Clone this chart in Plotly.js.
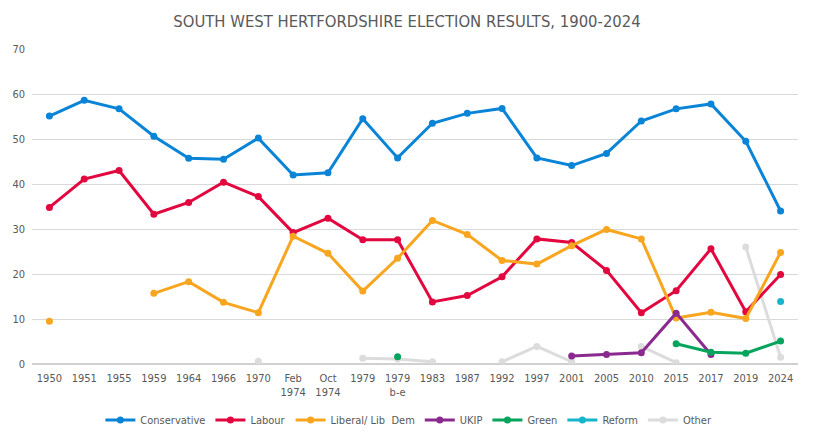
<!DOCTYPE html>
<html>
<head>
<meta charset="utf-8">
<script src="https://cdn.plot.ly/plotly-3.0.1.min.js"></script>
<style>
  body { margin: 0; background: #fff; }
  #chart { width: 814px; height: 440px; outline: 1px solid #d9d9d9; outline-offset: -1px; }
</style>
</head>
<body>
<div id="chart"></div>
<script>
// election years (categories) and their axis labels
const years = ['1950', '1951', '1955', '1959', '1964', '1966', '1970', 'Feb 1974', 'Oct 1974',
    '1979', '1979 b-e', '1983', '1987', '1992', '1997', '2001', '2005', '2010', '2015', '2017', '2019', '2024'];
const yearLabels = ['1950', '1951', '1955', '1959', '1964', '1966', '1970', 'Feb<br>1974', 'Oct<br>1974',
    '1979', '1979<br>b-e', '1983', '1987', '1992', '1997', '2001', '2005', '2010', '2015', '2017', '2019', '2024'];

// vote share, %
const conservative = [55.1, 58.6, 56.7, 50.6, 45.7, 45.5, 50.2, 42.0, 42.5, 54.5, 45.8,
    53.5, 55.7, 56.8, 45.8, 44.1, 46.8, 54.0, 56.7, 57.8, 49.5, 34.0];
const labour = [34.8, 41.1, 43.0, 33.3, 35.9, 40.4, 37.2, 29.2, 32.4, 27.6, 27.6,
    13.8, 15.2, 19.4, 27.8, 27.0, 20.8, 11.4, 16.3, 25.6, 11.6, 19.9];
const libDem = [9.5, null, null, 15.7, 18.3, 13.7, 11.4, 28.4, 24.6, 16.2, 23.5,
    31.9, 28.8, 23.0, 22.2, 26.3, 29.9, 27.8, 10.2, 11.5, 10.1, 24.8];
const ukip = [null, null, null, null, null, null, null, null, null, null, null,
    null, null, null, null, 1.8, 2.1, 2.5, 11.3, 2.1, null, null];
const green = [null, null, null, null, null, null, null, null, null, null, 1.6,
    null, null, null, null, null, null, null, 4.5, 2.6, 2.4, 5.1];
const reform = [null, null, null, null, null, null, null, null, null, null, null,
    null, null, null, null, null, null, null, null, null, null, 13.9];
const other = [null, null, null, null, null, null, 0.6, null, null, 1.3, 1.1,
    0.5, null, 0.5, 3.9, 0.5, null, 3.9, 0.3, null, 26.0, 1.5];

const series = [
    {name: 'Conservative', y: conservative, color: '#0a84d6'},
    {name: 'Labour', y: labour, color: '#e2073e'},
    {name: 'Liberal/ Lib  Dem', y: libDem, color: '#f8a51f'},
    {name: 'UKIP', y: ukip, color: '#8b2a8e'},
    {name: 'Green', y: green, color: '#06a45c'},
    {name: 'Reform', y: reform, color: '#15b5cd'},
    {name: 'Other', y: other, color: '#dcdcdc'}
];

const font = 'DejaVu Sans Condensed, Liberation Sans Narrow, sans-serif';

// Other drawn first so the coloured lines sit on top of it
const order = [6, 0, 1, 2, 3, 4, 5];
const data = order.map(function (i) {
    const s = series[i];
    return {
        type: 'scatter',
        mode: 'lines+markers',
        x: years,
        y: s.y,
        name: s.name,
        line: {color: s.color, width: 3},
        marker: {color: s.color, size: 7},
        legendrank: i + 1,
        hoverinfo: 'x+y+name'
    };
});

const layout = {
    width: 814,
    height: 440,
    margin: {l: 32, r: 16, t: 49, b: 76, autoexpand: false},
    paper_bgcolor: '#fff',
    plot_bgcolor: '#fff',
    font: {family: font, color: '#595959', size: 11},
    title: {
        text: 'SOUTH WEST HERTFORDSHIRE ELECTION RESULTS, 1900-2024',
        font: {family: font, size: 16.5, color: '#595959'},
        x: 0.5, xanchor: 'center', y: 0.952, yanchor: 'middle'
    },
    xaxis: {
        type: 'category',
        range: [-0.5, years.length - 0.5],
        tickvals: years,
        ticktext: yearLabels,
        showgrid: false,
        showline: false,
        ticks: '',
        automargin: false,
        ticklabelstandoff: 6,
        tickfont: {size: 11, color: '#595959'},
        fixedrange: true
    },
    yaxis: {
        range: [0, 70],
        dtick: 10,
        gridcolor: '#d9d9d9',
        gridwidth: 1,
        zeroline: true,
        zerolinecolor: '#d0d0d0',
        zerolinewidth: 1.5,
        showline: false,
        ticks: '',
        automargin: false,
        ticklabelstandoff: 6,
        tickfont: {size: 11, color: '#595959'},
        fixedrange: true
    },
    showlegend: true,
    legend: {
        orientation: 'h',
        x: 0.492, xanchor: 'center',
        y: -0.178, yanchor: 'middle',
        traceorder: 'normal',
        font: {size: 11, color: '#595959'},
        itemwidth: 30
    }
};

Plotly.newPlot('chart', data, layout, {displayModeBar: false});
</script>
</body>
</html>
